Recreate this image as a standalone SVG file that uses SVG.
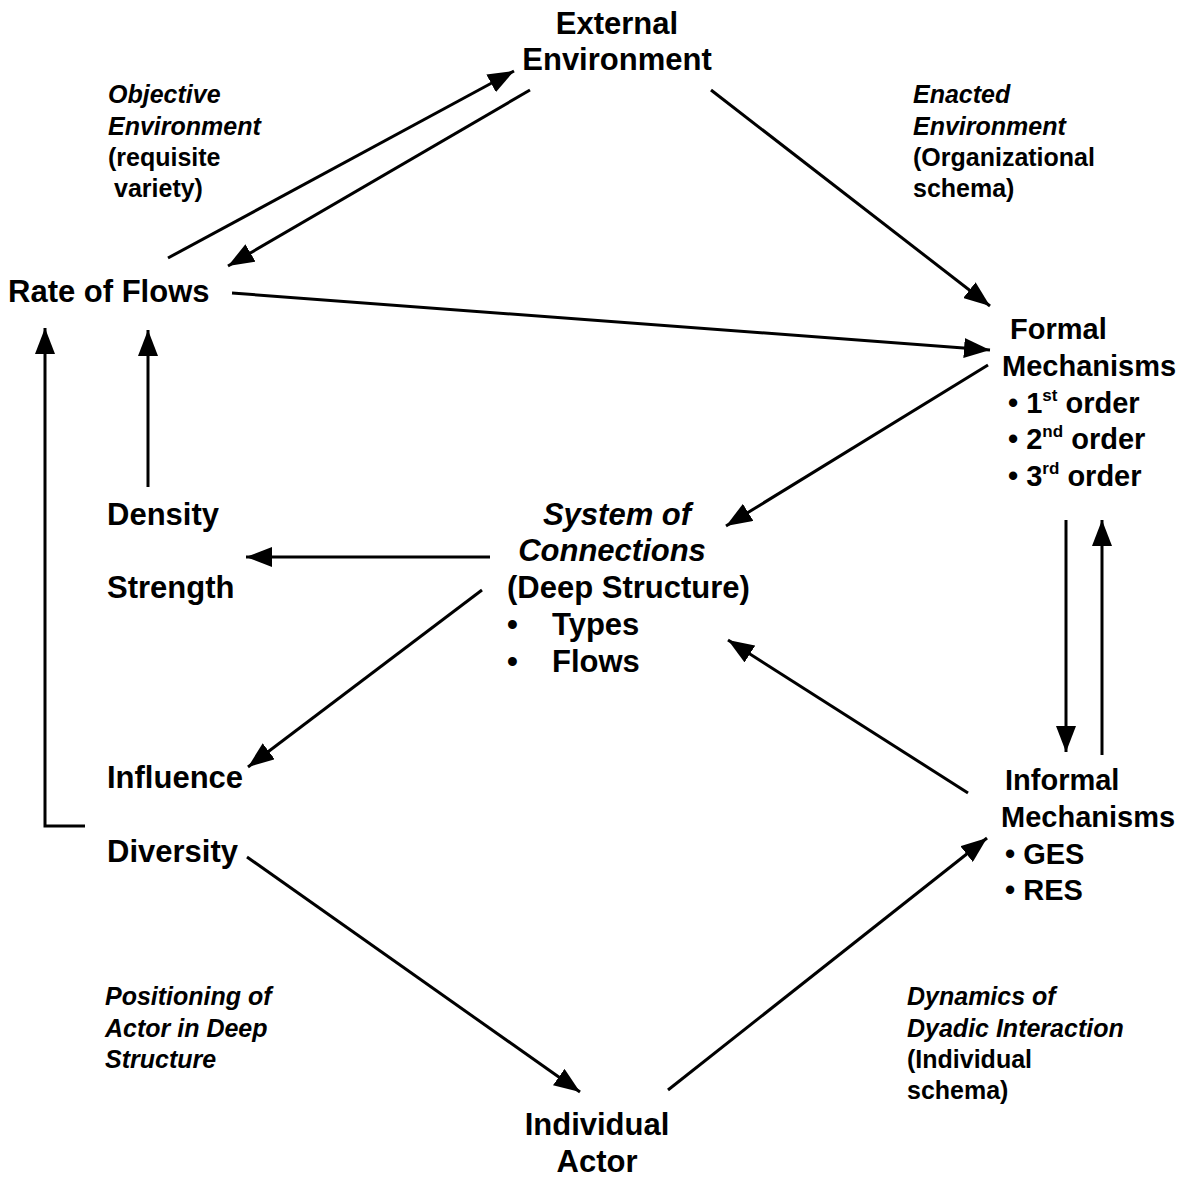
<svg xmlns="http://www.w3.org/2000/svg" width="1200" height="1178" viewBox="0 0 1200 1178">
<defs>
<style>
.t{font-family:"Liberation Sans",Arial,sans-serif;font-size:31px;font-weight:bold;fill:#000}
.r{font-family:"Liberation Sans",Arial,sans-serif;font-size:29px;font-weight:bold;fill:#000}
.i{font-family:"Liberation Sans",Arial,sans-serif;font-size:25px;font-weight:bold;font-style:italic;fill:#000}
.n{font-family:"Liberation Sans",Arial,sans-serif;font-size:25px;font-weight:bold;fill:#000}
.c{fill:none;stroke:#000;stroke-width:3}
</style>
<marker id="ah" viewBox="0 0 26 20" refX="26" refY="10" markerWidth="26" markerHeight="20" markerUnits="userSpaceOnUse" orient="auto">
<path d="M0,0 L26,10 L0,20 z" fill="#000"/>
</marker>
</defs>
<rect width="1200" height="1178" fill="#fff"/>
<g id="connectors">
<line class="c" x1="168" y1="258" x2="514" y2="71" marker-end="url(#ah)"/>
<line class="c" x1="530" y1="90" x2="228" y2="266" marker-end="url(#ah)"/>
<line class="c" x1="711" y1="90" x2="990" y2="306" marker-end="url(#ah)"/>
<line class="c" x1="232" y1="293" x2="990" y2="350" marker-end="url(#ah)"/>
<line class="c" x1="988" y1="365" x2="726" y2="526" marker-end="url(#ah)"/>
<line class="c" x1="1066" y1="520" x2="1066" y2="752" marker-end="url(#ah)"/>
<line class="c" x1="1102" y1="755" x2="1102" y2="520" marker-end="url(#ah)"/>
<line class="c" x1="968" y1="793" x2="728" y2="640" marker-end="url(#ah)"/>
<line class="c" x1="490" y1="557" x2="246" y2="557" marker-end="url(#ah)"/>
<line class="c" x1="482" y1="590" x2="248" y2="767" marker-end="url(#ah)"/>
<line class="c" x1="148" y1="487" x2="148" y2="330" marker-end="url(#ah)"/>
<polyline class="c" points="85,826 45,826 45,328" marker-end="url(#ah)"/>
<line class="c" x1="247" y1="857" x2="580" y2="1092" marker-end="url(#ah)"/>
<line class="c" x1="668" y1="1090" x2="987" y2="838" marker-end="url(#ah)"/>
</g>
<g id="external-environment">
<text class="t" x="617" y="34" text-anchor="middle">External</text>
<text class="t" x="617" y="70" text-anchor="middle">Environment</text>
</g>
<g id="objective-environment-label">
<text class="i" x="108" y="103">Objective</text>
<text class="i" x="108" y="135">Environment</text>
<text class="n" x="108" y="166">(requisite</text>
<text class="n" x="114" y="197">variety)</text>
</g>
<g id="enacted-environment-label">
<text class="i" x="913" y="103">Enacted</text>
<text class="i" x="913" y="135">Environment</text>
<text class="n" x="913" y="166">(Organizational</text>
<text class="n" x="913" y="197">schema)</text>
</g>
<g id="rate-of-flows">
<text class="t" x="8" y="302">Rate of Flows</text>
</g>
<g id="formal-mechanisms">
<text class="r" x="1010" y="339">Formal</text>
<text class="r" x="1002" y="376">Mechanisms</text>
<text class="r" x="1008" y="413">• 1<tspan font-size="17" dy="-12">st</tspan><tspan dy="12"> order</tspan></text>
<text class="r" x="1008" y="449">• 2<tspan font-size="17" dy="-12">nd</tspan><tspan dy="12"> order</tspan></text>
<text class="r" x="1008" y="486">• 3<tspan font-size="17" dy="-12">rd</tspan><tspan dy="12"> order</tspan></text>
</g>
<g id="system-of-connections">
<text class="t" x="617" y="525" text-anchor="middle" font-style="italic">System of</text>
<text class="t" x="612" y="561" text-anchor="middle" font-style="italic">Connections</text>
<text class="t" x="507" y="598">(Deep Structure)</text>
<text class="t" x="507" y="635">•</text>
<text class="t" x="552" y="635">Types</text>
<text class="t" x="507" y="672">•</text>
<text class="t" x="552" y="672">Flows</text>
</g>
<g id="density">
<text class="t" x="107" y="525">Density</text>
</g>
<g id="strength">
<text class="t" x="107" y="598">Strength</text>
</g>
<g id="influence">
<text class="t" x="107" y="788">Influence</text>
</g>
<g id="diversity">
<text class="t" x="107" y="862">Diversity</text>
</g>
<g id="informal-mechanisms">
<text class="r" x="1005" y="790">Informal</text>
<text class="r" x="1001" y="827">Mechanisms</text>
<text class="r" x="1005" y="864">• GES</text>
<text class="r" x="1005" y="900">• RES</text>
</g>
<g id="positioning-label">
<text class="i" x="105" y="1005">Positioning of</text>
<text class="i" x="105" y="1037">Actor in Deep</text>
<text class="i" x="105" y="1068">Structure</text>
</g>
<g id="dyadic-label">
<text class="i" x="907" y="1005">Dynamics of</text>
<text class="i" x="907" y="1037">Dyadic Interaction</text>
<text class="n" x="907" y="1068">(Individual</text>
<text class="n" x="907" y="1099">schema)</text>
</g>
<g id="individual-actor">
<text class="t" x="597" y="1135" text-anchor="middle">Individual</text>
<text class="t" x="597" y="1172" text-anchor="middle">Actor</text>
</g>
</svg>
